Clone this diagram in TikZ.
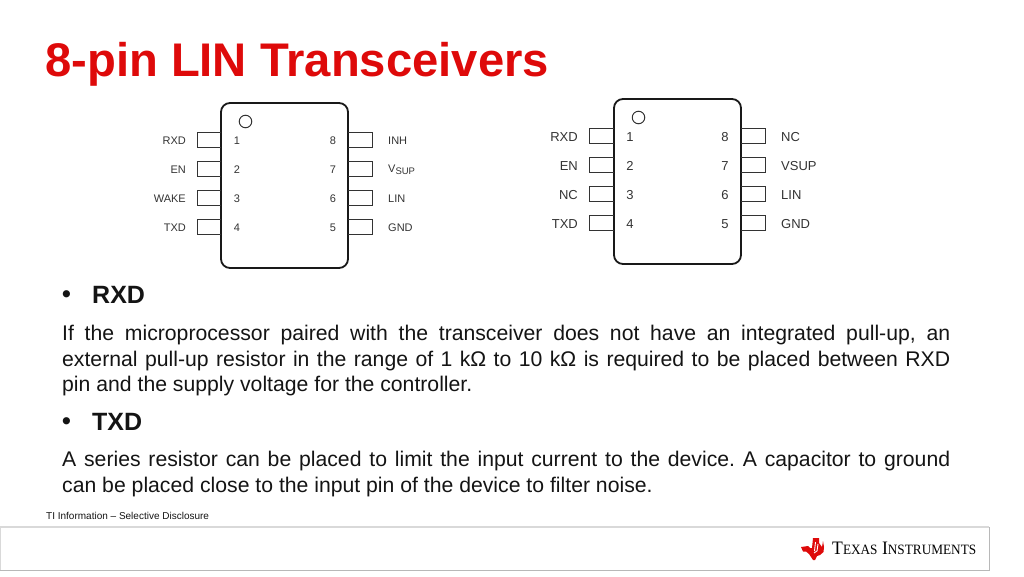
\documentclass[tikz,border=0pt]{standalone}
\usepackage{fontspec}
\setmainfont{Liberation Sans}
\newfontfamily\logofont{Liberation Serif}
\usetikzlibrary{calc,positioning}
\definecolor{tired}{HTML}{DE0A0A}
\definecolor{pinblack}{HTML}{333333}
\definecolor{textgrey}{HTML}{141414}
\tikzset{
  chip/.style={draw=black!90,line width=1.8pt,rounded corners=9pt,minimum width=127pt,minimum height=165pt,inner sep=0pt},
  pinbox/.style={draw=pinblack,line width=1pt},
  dot/.style={circle,draw=pinblack,line width=1pt,minimum size=12.5pt,inner sep=0pt},
  pinlabel/.style={font=\fontsize{11}{13}\selectfont,text=pinblack,inner sep=0pt},
  pinlabelb/.style={font=\fontsize{13}{15}\selectfont,text=pinblack,inner sep=0pt},
  bodytext/.style={font=\fontsize{21.2}{25.5}\selectfont\frenchspacing,text=textgrey,inner sep=0pt,text width=888pt,align=justify,anchor=north west},
  headtext/.style={font=\fontsize{25}{28}\selectfont\bfseries,text=textgrey,inner sep=0pt,anchor=base west},
}
\begin{document}
\begin{tikzpicture}[x=1pt,y=-1pt]
\useasboundingbox (0,0) rectangle (1024,576);

\node[font=\fontsize{47.2}{50}\selectfont\bfseries,text=tired,inner sep=0pt,anchor=base west] (title) at (45,76) {8-pin LIN Transceivers};

% left package
\node[chip] (chipa) at (284.5,185.5) {};
\node[dot] (dota) at (245.5,121.5) {};
\foreach \n/\y/\lab in {1/140/RXD,2/169/EN,3/198/WAKE,4/227/TXD} {
  \draw[pinbox] (221,\y-7.5) -- (197,\y-7.5) -- (197,\y+7.5) -- (221,\y+7.5);
  \node[pinlabel] (numa\n) at (237,\y+1) {\n};
  \node[pinlabel,anchor=east] (laba\n) at (186,\y+1) {\lab};
}
\foreach \n/\y/\lab in {8/140/INH,7/169/{V\raisebox{-2pt}{\fontsize{9.5}{11}\selectfont SUP}},6/198/LIN,5/227/GND} {
  \draw[pinbox] (348,\y-7.5) -- (372,\y-7.5) -- (372,\y+7.5) -- (348,\y+7.5);
  \node[pinlabel] (numa\n) at (333,\y+1) {\n};
  \node[pinlabel,anchor=west] (laba\n) at (388,\y+1) {\lab};
}

% right package
\node[chip] (chipb) at (677.5,181.5) {};
\node[dot] (dotb) at (638.5,117.5) {};
\foreach \n/\y/\lab in {1/136/RXD,2/165/EN,3/194/NC,4/223/TXD} {
  \draw[pinbox] (614,\y-7.5) -- (589.5,\y-7.5) -- (589.5,\y+7.5) -- (614,\y+7.5);
  \node[pinlabelb] (numb\n) at (630,\y+1) {\n};
  \node[pinlabelb,anchor=east] (labb\n) at (578,\y+1) {\lab};
}
\foreach \n/\y/\lab in {8/136/NC,7/165/VSUP,6/194/LIN,5/223/GND} {
  \draw[pinbox] (741,\y-7.5) -- (765.5,\y-7.5) -- (765.5,\y+7.5) -- (741,\y+7.5);
  \node[pinlabelb] (numb\n) at (725,\y+1) {\n};
  \node[pinlabelb,anchor=west] (labb\n) at (781,\y+1) {\lab};
}

% text
\node[headtext] (bula) at (62,302) {\textbullet};
\node[headtext] (heada) at (92,303) {RXD};
\node[bodytext] (para) at (62,325) {If the microprocessor paired with the transceiver does not have an integrated pull-up, an\linebreak external pull-up resistor in the range of 1 kΩ to 10 kΩ is required to be placed between RXD\linebreak pin and the supply voltage for the controller.};
\node[headtext] (bulb) at (62,429) {\textbullet};
\node[headtext] (headb) at (92,430) {TXD};
\node[bodytext] (parb) at (62,451) {A series resistor can be placed to limit the input current to the device. A capacitor to ground\linebreak can be placed close to the input pin of the device to filter noise.};

% footer
\node[font=\fontsize{10}{12}\selectfont,text=textgrey,inner sep=0pt,anchor=west] (foot) at (46,516) {TI Information -- Selective Disclosure};
\draw[color=black!15,line width=1.5pt] (0,527) -- (989,527);
\draw[color=black!28,line width=0.8pt] (989,527) -- (989,570) -- (0,570);
\draw[color=black!15,line width=0.8pt] (0.5,527) -- (0.5,570);

% logo
\fill[tired] (801,547) -- (808,546) -- (810,548) -- (812,548) -- (813,538) -- (819,538) -- (819,543) -- (822,547) -- (823,541) -- (824,547) -- (823.5,552) -- (820,555) -- (817,556) -- (815,560) -- (813,560) -- (809,554) -- (806,551.5) -- (803,551.5) -- cycle;
\draw[white,line width=0.9pt] (815.5,542) -- (814.5,551) (818,544) -- (817,551) -- (814,553);
\node[font=\fontsize{19}{20}\selectfont\logofont,text=black,inner sep=0pt,anchor=base west] (logotext) at (832,554.5) {\scalebox{0.93}[1]{T\scalebox{0.75}{EXAS} I\scalebox{0.75}{NSTRUMENTS}}};
\end{tikzpicture}
\end{document}
